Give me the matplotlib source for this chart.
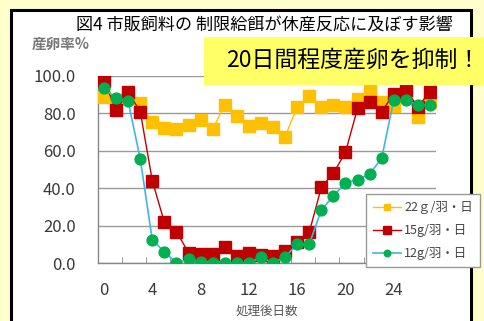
import matplotlib
matplotlib.use("Agg")
import matplotlib.pyplot as plt
from matplotlib.patches import Rectangle

plt.rcParams['font.family'] = ['Noto Sans CJK JP', 'DejaVu Sans']

# Days after treatment and laying rate (%) per feed amount
days = list(range(28))
rate_22g = [88.6, 87.0, 88.0, 85.4, 75.3, 72.0, 71.5, 73.8, 76.5, 71.5, 84.6, 78.6, 73.1, 75.1,
            72.5, 67.6, 83.4, 89.4, 83.4, 84.5, 83.4, 87.5, 92.0, 86.0, 84.0, 90.7, 78.0, 86.0]
rate_15g = [97.5, 81.8, 91.3, 81.0, 44.0, 21.7, 16.8, 5.5, 5.0, 5.0, 8.8, 4.0, 5.5, 4.5,
            3.8, 6.5, 11.4, 16.4, 40.5, 48.0, 59.2, 82.7, 86.0, 81.0, 90.4, 92.5, 83.6, 91.6]
rate_12g = [93.4, 88.0, 86.5, 55.6, 12.3, 6.0, 0.0, 2.0, 0.6, 0.0, 0.0, 0.0, 0.0, 3.2,
            0.0, 3.3, 10.0, 10.0, 28.3, 35.8, 43.0, 44.4, 47.6, 56.0, 87.2, 87.2, 84.5, 84.5]

series_labels = ['22ｇ/羽・日', '15g/羽・日', '12g/羽・日']
x_ticklabels = ['0', '4', '8', '12', '16', '20', '24']
y_ticks = [0, 20, 40, 60, 80, 100]

W, H = 485, 321
fig = plt.figure(figsize=(W / 100, H / 100), dpi=100)
fig.patch.set_facecolor('#FFFFCC')

# white framed panel
fig.patches.append(Rectangle((11.5 / W, -0.05), 460 / W, 1.05 - 9.5 / H,
                             transform=fig.transFigure, facecolor='white',
                             edgecolor='black', linewidth=2.2, zorder=-5))

ax = fig.add_axes([98 / W, (H - 263) / H, 338 / W, 187 / H])
ax.set_zorder(2)
ax.set_facecolor('white')

ax.plot(days, rate_22g, color='#FFC000', lw=1.0, marker='s', ms=8.0,
        mec='#FFC000', mfc='#FFC000', label=series_labels[0], zorder=3)
ax.plot(days, rate_15g, color='#C00000', lw=1.0, marker='s', ms=9.0,
        mec='#C00000', mfc='#C00000', label=series_labels[1], zorder=4)
ax.plot(days, rate_12g, color='#3FB6E8', lw=1.2, marker='o', ms=7.8,
        mec='#00B050', mfc='#00B050', label=series_labels[2], zorder=5)

ax.set_xlim(-0.5, 27.5)
ax.set_ylim(0, 100)
ax.set_yticks(y_ticks)
ax.set_yticklabels([f'{v:.1f}' for v in y_ticks])
ax.set_xticks([int(t) for t in x_ticklabels])
ax.set_xticklabels(x_ticklabels)
ax.set_xticks([1.5 + 2 * i for i in range(14)], minor=True)
ax.tick_params(axis='x', which='major', length=0, pad=14, labelsize=12, labelcolor='#3a3a3a')
ax.tick_params(axis='x', which='minor', direction='in', length=4, color='#888888')
ax.tick_params(axis='y', length=0, pad=16, labelsize=12, labelcolor='#3a3a3a')

ax.grid(axis='y', color='#9a9a9a', lw=1.0)
ax.set_axisbelow(True)
for s in ['top', 'right']:
    ax.spines[s].set_visible(False)
for s in ['left', 'bottom']:
    ax.spines[s].set_color('#888888')
    ax.spines[s].set_linewidth(1.0)

ax.set_xlabel('処理後日数', fontsize=9, color='#555555', labelpad=4)

fig.text(32 / W, 1 - 44 / H, '産卵率%', fontsize=10.5, color='#777777',
         ha='left', va='center', fontweight='bold')
fig.text(264 / W, 1 - 26 / H, '図4 市販飼料の 制限給餌が休産反応に及ぼす影響',
         fontsize=12.3, color='black', ha='center', va='center')

leg = ax.legend(loc='upper left', bbox_to_anchor=(360 / W, 1 - 188 / H),
                bbox_transform=fig.transFigure, fontsize=9, frameon=True,
                fancybox=False, edgecolor='#999999', framealpha=1,
                handlelength=2.2, handletextpad=0.3, labelspacing=0.8,
                borderpad=0.55, markerscale=0.6)
leg.get_frame().set_linewidth(1.0)
for t in leg.get_texts():
    t.set_color('#444444')
leg.set_zorder(10)

# highlighted note box
fig.patches.append(Rectangle((204 / W, 1 - 85 / H), 290 / W, 48 / H,
                             transform=fig.transFigure, facecolor='#FFFF66',
                             edgecolor='none', zorder=20))
fig.text(353 / W, 1 - 60 / H, '20日間程度産卵を抑制！', fontsize=16.5,
         color='black', ha='center', va='center', zorder=21)

fig.savefig('out.png', dpi=100, facecolor=fig.get_facecolor())
